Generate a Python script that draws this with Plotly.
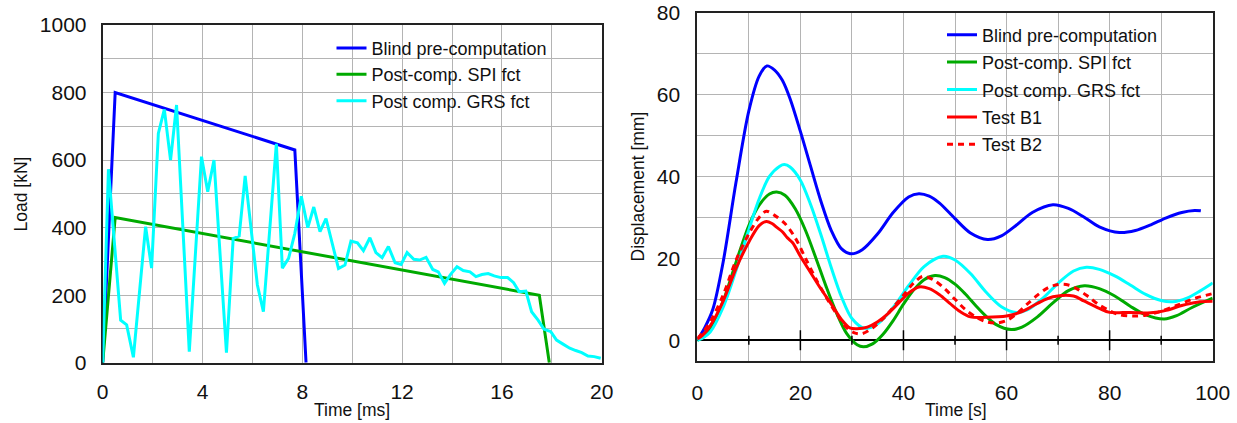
import plotly.graph_objects as go

# ---------------- data: left panel (load history) ----------------
blind_t = [0, 0.5, 7.7, 8.15]
blind_f = [0, 800, 630, 0]
spi_t = [0, 0.5, 17.5, 17.9]
spi_f = [0, 430, 200, 0]
grs_t = [0, 0.23, 0.72, 0.96, 1.23, 1.72, 1.96, 2.23, 2.47, 2.72, 2.96, 3.47, 3.96, 4.21,
         4.46, 4.96, 5.23, 5.47, 5.71, 6.2, 6.44, 6.96, 7.2, 7.45, 7.7, 7.96, 8.22, 8.46,
         8.71, 8.95, 9.45, 9.71, 9.95, 10.21, 10.45, 10.71, 10.95, 11.2, 11.45, 11.72,
         11.96, 12.2, 12.47, 12.7, 12.96, 13.23, 13.45, 13.7, 13.96, 14.2, 14.45, 14.72,
         14.96, 15.2, 15.45, 15.69, 15.96, 16.23, 16.47, 16.69, 16.96, 17.19, 17.45, 17.69,
         17.96, 18.19, 18.45, 18.72, 18.96, 19.2, 19.45, 19.7, 19.96]
grs_f = [0, 573, 126, 112, 16, 403, 280, 679, 750, 600, 763, 33, 610, 506,
         600, 30, 368, 375, 553, 230, 151, 648, 280, 309, 383, 493, 400, 461,
         388, 427, 279, 289, 360, 355, 332, 370, 326, 311, 344, 296,
         291, 326, 306, 304, 312, 276, 269, 235, 263, 284, 273, 269,
         255, 261, 264, 257, 252, 252, 237, 210, 212, 151, 126, 99,
         92, 67, 55, 43, 36, 30, 20, 18, 13]

# ---------------- data: right panel (displacement) ----------------
blind_ts = [0, 1.5, 3, 5, 7.5, 10, 12, 13.5, 15, 16.5, 18, 20, 22, 24, 26, 28, 29.8, 32, 35, 38,
            41, 43, 45, 47, 50, 53, 56.3, 59, 62, 65, 69, 72, 75, 78, 81.9, 85, 88, 91, 94,
            96.5, 97.7]
blind_d = [0, 3.2, 7.5, 19, 38.5, 56, 64.5, 67, 66, 63.5, 59, 51, 42.4, 33.9, 26.8, 22.3, 21.1,
           22.1, 26, 31.2, 35, 35.8, 35.2, 33.5, 29.7, 26.2, 24.6, 25.5, 28.2, 31.2, 33.1,
           32.2, 30.1, 27.7, 26.3, 26.8, 28.2, 29.9, 31.2, 31.7, 31.6]
grs_ts = [0, 1, 2.5, 5, 7.5, 10, 12, 14, 16, 16.9, 18, 20, 22, 24, 26, 28, 30, 32.5, 35, 38, 41,
          44, 47.7, 50, 53, 56, 59, 61.9, 64, 67, 70, 73, 75.5, 78, 81, 84, 87, 90, 92.2, 95,
          97.5, 100]
grs_d = [0, 0.5, 2, 8, 17, 27, 34.5, 40, 42.5, 42.9, 42.3, 39.1, 33.1, 25.7, 17.7, 10.5, 5.3,
         2.9, 4.0, 8.0, 13.3, 18.0, 20.5, 19.6, 16.3, 11.8, 8.2, 6.8, 7.4, 10.2, 13.9, 16.9,
         17.8, 17.3, 15.7, 13.5, 11.2, 9.7, 9.4, 10.3, 12.0, 14.0]
spi_ts = [0, 1, 2.5, 5, 7.5, 10, 12, 14, 15.4, 17, 19, 21, 23, 25, 27, 29, 31, 32.2, 34, 36, 38,
          40, 42, 44, 46.1, 48, 50, 52, 54, 56, 58, 60.9, 63, 66, 69, 72, 75.1, 78, 81, 84, 87,
          90.6, 93, 96, 100]
spi_d = [0, 0.6, 2.5, 9.5, 19, 28, 33, 35.7, 36.2, 35.4, 32.1, 26.8, 20.1, 13.1, 6.7, 1.6,
         -1.1, -1.6, -0.9, 1.4, 4.8, 8.8, 12.3, 14.8, 15.8, 15.3, 13.7, 11.3, 8.5, 5.9, 3.8,
         2.6, 3.2, 5.7, 9.1, 12.1, 13.3, 12.6, 10.8, 8.3, 6.2, 5.2, 6.0, 8.0, 10.3]
b1_ts = [0, 1, 2.5, 5, 7.5, 10, 12, 13.4, 14.5, 15.5, 16.5, 17.5, 18.5, 20, 22, 24, 26, 28,
         29.6, 31, 33, 35, 37, 39, 41, 43, 45, 47, 49, 51, 53, 56, 60, 63, 66, 69, 73, 75,
         78, 80, 84, 88, 91, 94, 97, 100]
b1_d = [0.3, 1.2, 3.5, 9.5, 17.5, 24, 28, 29, 28.5, 27.5, 26.5, 25, 23.8, 20.5, 16.5, 12.5,
        8.8, 5, 3, 2.8, 3.2, 4.5, 6.5, 9, 11.5, 13, 12.6, 11.1, 9, 7, 5.7, 5.6, 5.9, 7, 9,
        10.6, 10.8, 9.6, 7.8, 6.8, 6.8, 6.7, 7.3, 8.5, 9.3, 9.5]
b2_ts = [0, 1, 2.5, 5, 7.5, 10, 12, 13.4, 15, 17, 19, 21, 23, 25, 27, 29, 30.5, 32, 34, 36,
         38, 40, 42, 43.8, 46, 48, 50, 52, 54, 56, 58, 60, 62, 64, 66, 68, 70, 72, 74, 76,
         78, 80, 82, 84.5, 87, 90, 93, 96, 100]
b2_d = [0.5, 1.8, 4.5, 11, 19.5, 26, 30, 31.5, 30.5, 28.5, 25, 20, 15, 10.5, 6.5, 3, 1.8,
        1.6, 3, 5.2, 8, 11, 14, 15.6, 14.6, 12.6, 10, 7.5, 5.7, 4.5, 4.2, 4.8, 6.5, 8.8, 11,
        12.8, 13.6, 13.5, 12.3, 10.5, 8.6, 7.2, 6.2, 5.9, 6.1, 7.1, 8.5, 10, 11.4]

# tick values / labels
left_xticks = list(range(0, 21, 2))
left_xlabels = [str(v) if v % 4 == 0 else "" for v in left_xticks]
left_yticks = list(range(0, 1001, 100))
left_ylabels = [str(v) if v % 200 == 0 else "" for v in left_yticks]
right_xticks = list(range(0, 101, 10))
right_xlabels = [str(v) if v % 20 == 0 else "" for v in right_xticks]
right_yticks = list(range(0, 81, 10))
right_ylabels = [str(v) if v % 20 == 0 else "" for v in right_yticks]

W, H = 1237, 423
def px(x):
    return x / W
def py(y):
    return 1 - y / H

FONT = "Liberation Sans, Arial, sans-serif"
BLUE, GREEN, CYAN, RED = "#0000ff", "#00aa00", "#00ffff", "#ff0000"
GRID = "#b4b4b4"
AXC = "#222222"
LW = 3

fig = go.Figure()

def add(x, y, name, color, xa, ya, leg, grp, dash="solid", shape="linear"):
    fig.add_trace(go.Scatter(x=x, y=y, mode="lines", name=name,
                             line=dict(color=color, width=LW, dash=dash, shape=shape, smoothing=0.9),
                             xaxis=xa, yaxis=ya, legend=leg, legendgroup=grp))

add(blind_t, blind_f, "Blind pre-computation", BLUE, "x", "y", "legend", "l1")
add(spi_t, spi_f, "Post-comp. SPI fct", GREEN, "x", "y", "legend", "l2")
add(grs_t, grs_f, "Post comp. GRS fct", CYAN, "x", "y", "legend", "l3")

add(blind_ts, blind_d, "Blind pre-computation", BLUE, "x2", "y2", "legend2", "r1", shape="spline")
add(spi_ts, spi_d, "Post-comp. SPI fct", GREEN, "x2", "y2", "legend2", "r2", shape="spline")
add(grs_ts, grs_d, "Post comp. GRS fct", CYAN, "x2", "y2", "legend2", "r3", shape="spline")
add(b1_ts, b1_d, "Test B1", RED, "x2", "y2", "legend2", "r4", shape="spline")
add(b2_ts, b2_d, "Test B2", RED, "x2", "y2", "legend2", "r5", dash="6px,5px", shape="spline")

tickfont = dict(family=FONT, size=21, color="#111")
common = dict(showgrid=True, gridcolor=GRID, gridwidth=1.3, showline=True, linecolor=AXC,
              linewidth=2, mirror=True, ticks="", tickfont=tickfont, zeroline=False,
              tickmode="array", automargin=False, layer="below traces",
              ticklabeloverflow="allow")
tickax = dict(ticks="inside", tickwidth=1.5, tickcolor=AXC, tickmode="array",
              showticklabels=False, showgrid=False, zeroline=False, showline=False,
              automargin=False)

fig.update_layout(
    width=W, height=H, margin=dict(l=0, r=0, t=0, b=0, autoexpand=False),
    paper_bgcolor="white", plot_bgcolor="rgba(0,0,0,0)",
    font=dict(family=FONT, color="#111"),
    xaxis=dict(domain=[px(102.7), px(601.7)], range=[0, 20], anchor="y",
               tickvals=left_xticks, ticktext=left_xlabels, ticklabelstandoff=9, **common),
    yaxis=dict(domain=[py(362.7), py(25)], range=[0, 1000], anchor="x",
               tickvals=left_yticks, ticktext=left_ylabels, ticklabelstandoff=10, **common),
    xaxis2=dict(domain=[px(697.3), px(1212.7)], range=[0, 100], anchor="y2",
                tickvals=right_xticks, ticktext=right_xlabels, ticklabelstandoff=12, **common),
    yaxis2=dict(domain=[py(360.7), py(12.7)], range=[-5, 80], anchor="x2",
                tickvals=right_yticks, ticktext=right_ylabels, ticklabelstandoff=11,
                **{**common, "zeroline": True}, zerolinecolor="#000", zerolinewidth=1.5),
    # mirrored tick axes (top / right)
    xaxis3=dict(overlaying="x", side="top", anchor="y", range=[0, 20],
                tickvals=left_xticks, ticklen=8, **tickax),
    yaxis3=dict(overlaying="y", side="right", anchor="x", range=[0, 1000],
                tickvals=left_yticks, ticklen=9, **tickax),
    xaxis4=dict(overlaying="x2", side="top", anchor="y2", range=[0, 100],
                tickvals=right_xticks, ticklen=9, **tickax),
    yaxis4=dict(overlaying="y2", side="right", anchor="x2", range=[-5, 80],
                tickvals=right_yticks, ticklen=9, **tickax),
    legend=dict(x=px(331.5), y=py(29.7), xanchor="left", yanchor="top", bgcolor="rgba(0,0,0,0)",
                font=dict(family=FONT, size=18, color="#111"), traceorder="grouped",
                tracegroupgap=0),
    legend2=dict(x=px(942), y=py(16.5), xanchor="left", yanchor="top", bgcolor="rgba(0,0,0,0)",
                 font=dict(family=FONT, size=18, color="#111"), traceorder="grouped",
                 tracegroupgap=1),
)

# ticks on the zero axis of the right panel
shapes = []
for v in right_xticks[1:-1]:
    L = 10 if v % 20 == 0 else 4.5
    shapes.append(dict(type="line", xref="x2", yref="y2", x0=v, x1=v, yanchor=0,
                       ysizemode="pixel", y0=-L, y1=L, line=dict(color="#000", width=1.5)))
fig.update_layout(shapes=shapes)

title_font = dict(family=FONT, size=17.5, color="#111")
fig.add_annotation(text="Load [kN]", x=px(20.5), y=py(194), xref="paper", yref="paper",
                   textangle=-90, showarrow=False, font=title_font, xanchor="center", yanchor="middle")
fig.add_annotation(text="Time [ms]", x=px(351.7), y=py(410), xref="paper", yref="paper",
                   showarrow=False, font=title_font, xanchor="center", yanchor="middle")
fig.add_annotation(text="Displacement [mm]", x=px(637.5), y=py(187), xref="paper", yref="paper",
                   textangle=-90, showarrow=False, font=title_font, xanchor="center", yanchor="middle")
fig.add_annotation(text="Time [s]", x=px(956), y=py(410), xref="paper", yref="paper",
                   showarrow=False, font=title_font, xanchor="center", yanchor="middle")

# remove the default 8px page margin so the figure fills the window exactly
fig.write_html("out.html", config={"displayModeBar": False},
               post_script="document.body.style.margin='0';document.body.style.overflow='hidden';")
